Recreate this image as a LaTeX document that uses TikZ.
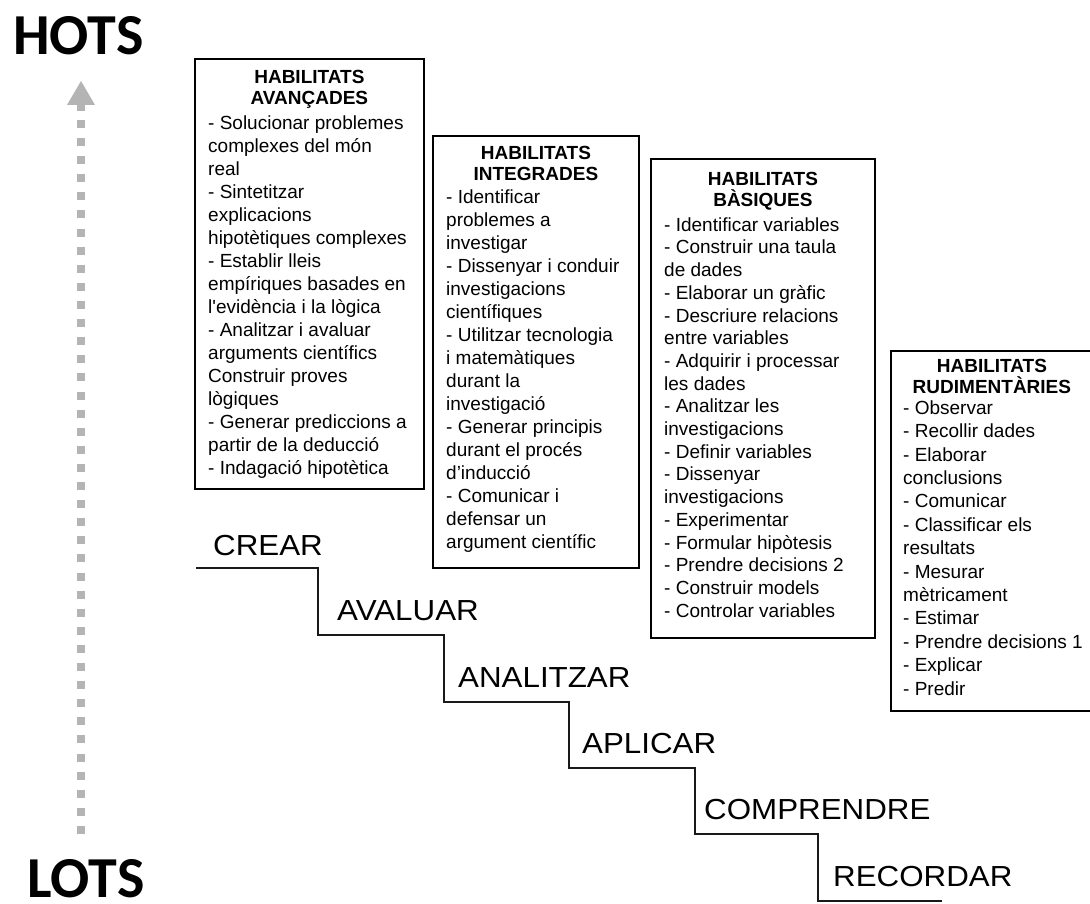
\documentclass[tikz,border=0pt]{standalone}
\usepackage{fontspec}
\setmainfont{Liberation Sans}
\newfontfamily\headfont{Carlito}
\newfontfamily\plainquote{Liberation Sans}[Ligatures=TeXOff]
\definecolor{arrowgray}{RGB}{180,180,180}
\definecolor{stairink}{RGB}{25,25,25}
\begin{document}
\begin{tikzpicture}[x=1pt,y=-1pt,
  skillbox/.style={draw=black, line width=1.8pt, inner sep=0pt, anchor=north west},
  boxtitle/.style={font=\bfseries\fontsize{19}{21}\selectfont, align=center, inner sep=0pt, anchor=north},
  boxitems/.style={font=\fontsize{19}{23}\selectfont, align=left, inner sep=0pt, anchor=north west},
  level/.style={font=\fontsize{29}{30}\selectfont, inner sep=0pt, anchor=base west},
  stair/.style={line width=2pt, draw=stairink},
  ends/.style={font=\headfont\bfseries\fontsize{58}{60}\selectfont, inner sep=0pt, anchor=base west}]

\useasboundingbox (0,0) rectangle (1090,904);

% HOTS / LOTS and the dotted arrow between them
\node[ends] (hots) at (13,55) {HOTS};
\node[ends] (lots) at (27,897) {LOTS};
\coordinate (arrTip) at (81,81);
\coordinate (dotTop) at (81,120);
\coordinate (dotBot) at (81,834);
\fill[arrowgray] (arrTip) -- ++(14,24) -- ++(-28,0) -- cycle;
\fill[arrowgray] (77,104) rectangle (85,111);
\draw[arrowgray, line width=8pt, dash pattern=on 8pt off 10.1pt] (dotTop) -- (dotBot);

% staircase of levels
\coordinate (st0) at (196,568);
\coordinate (st1) at (318,635);
\coordinate (st2) at (444,702);
\coordinate (st3) at (569,768);
\coordinate (st4) at (695,834);
\coordinate (st5) at (818,901);
\coordinate (st6) at (942,901);
\draw[stair] (st0) -| (st1) -| (st2) -| (st3) -| (st4) -| (st5) -- (st6);

\node[level] (crear) at (213,555) {\scalebox{1.08}[1]{CREAR}};
\node[level] (avaluar) at (337,620) {\scalebox{1.08}[1]{AVALUAR}};
\node[level] (analitzar) at (458,687) {\scalebox{1.08}[1]{ANALITZAR}};
\node[level] (aplicar) at (582,753) {\scalebox{1.08}[1]{APLICAR}};
\node[level] (comprendre) at (704,819) {\scalebox{1.08}[1]{COMPRENDRE}};
\node[level] (recordar) at (833,886) {\scalebox{1.08}[1]{RECORDAR}};

% skill boxes
\node[skillbox, minimum width=229pt, minimum height=430pt] (avan) at (194,58) {};
\node[boxtitle] (avanT) at (avan.north) {\rule{0pt}{25pt}HABILITATS\\AVANÇADES};
\node[boxitems] (avanL) at ([xshift=14pt]avan.north west) {\rule{0pt}{71pt}- Solucionar problemes\\
complexes del món\\
real\\
- Sintetitzar\\
explicacions\\
hipotètiques complexes\\
- Establir lleis\\
empíriques basades en\\
l{\plainquote'}evidència i la lògica\\
- Analitzar i avaluar\\
arguments científics\\
Construir proves\\
lògiques\\
- Generar prediccions a\\
partir de la deducció\\
- Indagació hipotètica};

\node[skillbox, minimum width=206pt, minimum height=432pt] (integ) at (432,135) {};
\node[boxtitle] (integT) at (integ.north) {\rule{0pt}{24pt}HABILITATS\\INTEGRADES};
\node[boxitems] (integL) at ([xshift=14pt]integ.north west) {\rule{0pt}{68pt}- Identificar\\
problemes a\\
investigar\\
- Dissenyar i conduir\\
investigacions\\
científiques\\
- Utilitzar tecnologia\\
i matemàtiques\\
durant la\\
investigació\\
- Generar principis\\
durant el procés\\
d’inducció\\
- Comunicar i\\
defensar un\\
argument científic};

\node[skillbox, minimum width=224pt, minimum height=479pt] (basiq) at (650,158) {};
\node[boxtitle] (basiqT) at (basiq.north) {\rule{0pt}{27pt}HABILITATS\\BÀSIQUES};
\node[boxitems, font=\fontsize{19}{22.7}\selectfont] (basiqL) at ([xshift=14pt]basiq.north west) {\rule{0pt}{73pt}- Identificar variables\\
- Construir una taula\\
de dades\\
- Elaborar un gràfic\\
- Descriure relacions\\
entre variables\\
- Adquirir i processar\\
les dades\\
- Analitzar les\\
investigacions\\
- Definir variables\\
- Dissenyar\\
investigacions\\
- Experimentar\\
- Formular hipòtesis\\
- Prendre decisions 2\\
- Construir models\\
- Controlar variables};

\node[skillbox, minimum width=202pt, minimum height=360pt] (rudim) at (890,350) {};
\node[boxtitle] (rudimT) at (rudim.north) {\rule{0pt}{22pt}HABILITATS\\RUDIMENTÀRIES};
\node[boxitems, font=\fontsize{19}{23.4}\selectfont] (rudimL) at ([xshift=13pt]rudim.north west) {\rule{0pt}{64pt}- Observar\\
- Recollir dades\\
- Elaborar\\
conclusions\\
- Comunicar\\
- Classificar els\\
resultats\\
- Mesurar\\
mètricament\\
- Estimar\\
- Prendre decisions 1\\
- Explicar\\
- Predir};
\end{tikzpicture}
\end{document}
